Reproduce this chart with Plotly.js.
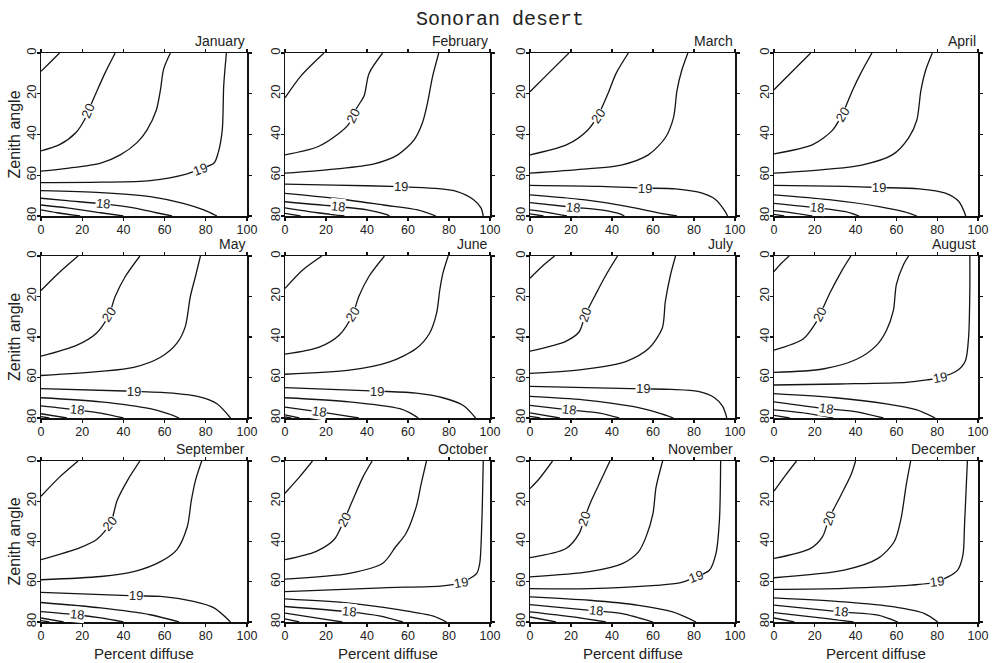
<!DOCTYPE html>
<html><head><meta charset="utf-8">
<script src="https://cdn.plot.ly/plotly-3.0.1.min.js"></script>
<style>html,body{margin:0;padding:0;background:#fff}#chart{width:1000px;height:663px}</style>
</head><body><div id="chart"></div>
<script>
const months = ['January','February','March','April','May','June','July','August','September','October','November','December'];
const xTicks = [0,20,40,60,80,100];
const yTicks = [0,20,40,60,80];
const levels = ['20.5','20','19.5','19','18.5','18','17.5','17'];

// contour 20.5 (points: [percent diffuse, zenith angle])
const c205 = [
 [[0,9],[4,5],[9,0]],
 [[0,22],[8,11],[19,0]],
 [[0,19],[8,11],[19,0]],
 [[0,18],[11,7],[18,0]],
 [[0,17],[9,8],[18,0]],
 [[0,16],[8.5,7],[18,0]],
 [[0,11],[6.5,4.6],[12,0]],
 [[0,7.7],[3.6,3.6],[7.4,0]],
 [[0,17.5],[9,8],[18,0]],
 [[0,16],[7,8],[13.4,0]],
 [[0,13.7],[4.5,8.8],[11,0]],
 [[0,15],[5.7,7],[11,0]]
];
// contour 20 (labelled)
const c200 = [
 [[0,48],[9,45],[17,39],[21,33],[24,26],[27,19],[31,10],[36,0]],
 [[0,50],[16,46],[25.6,40],[31,35],[35,27],[38.6,21],[41,10],[47.6,0]],
 [[0,50],[18,45],[28,38],[33,31],[38,20],[42,10],[48,0]],
 [[0,49.5],[19,45],[28.6,38],[33.5,30],[38.4,18.5],[42.5,10],[48,0]],
 [[0,49.5],[17.5,44],[27,38],[33,29],[36,20],[41,10],[48,0]],
 [[0,48.5],[16.7,45],[26.5,39],[33,29],[36,20],[41,10],[48.5,0]],
 [[0,47],[17.7,42],[24,37.4],[27,29],[32,19],[37,9.5],[42.7,0]],
 [[0,46.5],[14.3,41],[20,33.8],[22.5,29],[27.4,18.3],[33,7.7],[37.7,0]],
 [[0,49],[19,43],[27,39],[33.7,31],[37,19.5],[42,9.6],[48,0]],
 [[0,49],[15,45],[24,39],[29,29],[33,19.5],[38,8],[42.5,0]],
 [[0,48],[17.6,43.5],[24,36],[26.5,28.6],[30,19.5],[34.6,9.6],[39,0]],
 [[0,48.4],[18,43.4],[23.8,37.6],[27,28.5],[32.8,17],[37.7,7],[40,0]]
];
// contour 19.5
const c195 = [
 [[0,58],[12.6,56.6],[29,54],[38.5,50],[46.6,44],[51.5,37.7],[56,28],[58,18],[59.5,8],[62.8,0]],
 [[0,59],[24,57],[43.5,54.4],[55,50],[63,42.6],[67,34.4],[69.5,24.6],[72,11.5],[75,0]],
 [[0,59],[26,57],[44.5,55],[57.7,50],[66,41.6],[70,31.7],[71.7,18.5],[74,8.6],[77,0]],
 [[0,59],[27,57],[43,55],[58,50],[66,41.6],[70,33],[72,18.5],[74.3,8.6],[77.6,0]],
 [[0,59],[29,57],[45,55],[58,50],[66,43],[70,35],[72.5,20],[75,10],[77.4,0]],
 [[0,58.4],[31.4,56.4],[51,52.3],[64,45.7],[70.6,38],[74,28],[75.5,16.8],[77,8.6],[79.6,0]],
 [[0,58],[26,56],[47,52],[58,45.6],[64.5,35.7],[66,22.6],[68.5,9.5],[71,0]],
 [[0,57.5],[24,55.8],[40.5,51],[50,44.4],[55,37],[58.5,27],[60,14],[63.4,4.4],[66,0]],
 [[0,59],[29,57.4],[45,55],[58,50],[66,44],[71,32.7],[73,19.5],[75,9.6],[78,0]],
 [[0,58.7],[31.4,55.8],[47.7,50.8],[54,42.6],[59,36],[64,22.8],[66.5,11],[69,0]],
 [[0,57.6],[29,55],[45,51],[53,45],[56.6,37.7],[60,26],[61.5,13],[64.7,0]],
 [[0,58],[34.4,54.2],[51,48.4],[59,40],[62.3,28.5],[64.8,12],[67,0]]
];
// contour 19 (labelled)
const c190 = [
 [[0,63.6],[29,63.4],[53,62.6],[71,59.3],[77,57],[84,54],[86,49],[88,37.7],[88.7,16],[90,0]],
 [[0,64.4],[24,64.8],[56.5,65.6],[72.8,66.4],[84,68],[92,72],[95.6,76],[96.7,80]],
 [[0,65],[34.6,65.5],[56,66.3],[71,66.7],[84,68.8],[90.6,72],[94.7,77],[96.4,80]],
 [[0,65],[35,65.5],[51.5,66],[71,66.7],[84,68.8],[90.7,73],[94,80]],
 [[0,65.5],[45,66.8],[64,67.7],[77,69.6],[85.4,73],[92,80]],
 [[0,65],[45,66.7],[64,67.7],[77,70],[87,73.8],[93,80]],
 [[0,64.4],[55,65.6],[69,65.9],[82,66.9],[90,70],[94,74.3],[96,80]],
 [[0,63.7],[32,63.2],[65,62.4],[75,61.2],[81.5,60],[89.7,56.7],[93.8,51.8],[95.4,40],[96,15.8],[96,0]],
 [[0,65.3],[46,67],[58,67.3],[74,69.8],[84,73],[92,80]],
 [[0,64.9],[47.7,63],[77,62],[86,60.4],[93.5,55.8],[95,50.8],[96,31],[96.7,0]],
 [[0,63.4],[29,63.4],[61.5,61.8],[73,60.6],[81,57.6],[87.5,54.3],[90.7,46],[92.4,29.5],[93,0]],
 [[0,63.8],[34.4,63.3],[67,61.7],[80,60],[90,54.2],[92.6,46.8],[93.4,31.8],[94.8,0]]
];
// contour 18.5
const c185 = [
 [[0,67.5],[29,68.5],[53,70.5],[69,73.8],[79,77],[85.4,80]],
 [[0,68.9],[24,71.3],[48,74.6],[64.7,77],[73.6,80]],
 [[0,69.6],[26,72],[51,76],[64,78.7],[71.7,80]],
 [[0,69.6],[27,72],[51.5,75.4],[64,78],[70,80]],
 [[0,70],[29,72],[53,75.4],[62,78],[67,80]],
 [[0,70],[31.4,72],[56,75.4],[61,77.5],[65,80]],
 [[0,69.3],[26,71],[50,74.3],[63,77.6],[70,80]],
 [[0,68],[30,70],[55,73],[70,76],[79,80]],
 [[0,70.3],[29,73],[53,76.4],[67,80]],
 [[0,68.5],[31.4,70.6],[56,74],[72,77],[78.8,80]],
 [[0,67.5],[29,69.2],[53,71.7],[69.6,75],[81,80]],
 [[0,68],[34.4,70],[59,72.5],[73.8,75.8],[80.3,80]]
];
// contour 18 (labelled)
const c180 = [
 [[0,71.3],[12.6,72.5],[30,74],[45,76],[56,78.4],[63.6,80]],
 [[0,73],[26,75.4],[40,77],[50,79.5],[51,80]],
 [[0,73.4],[21,75.7],[34.6,77],[44.5,79.2],[46,80]],
 [[0,73.8],[21,76],[35,77.9],[41.7,80]],
 [[0,74],[17.5,76],[29,77.6],[40,80]],
 [[0,74.6],[16.7,77],[28,78.7],[36,80]],
 [[0,73.8],[19,76],[34,77.6],[43.5,80]],
 [[0,72],[25.7,75.4],[40.5,77],[53.6,80]],
 [[0,74.8],[17.5,76.4],[29,78],[40,80]],
 [[0,72.3],[31.4,75],[46,77],[57.5,80]],
 [[0,71.4],[32,74.5],[45,75.8],[60,80]],
 [[0,71.6],[32.8,75],[51,76.6],[60.7,80]]
];
// contour 17.5
const c175 = [
 [[0,74.6],[12.6,76],[29,78.4],[40,80]],
 [[0,76],[15.8,78.4],[29,80]],
 [[0,77],[9,78.3],[18,80]],
 [[0,77.4],[10.6,78.7],[18.8,80]],
 [[0,77.9],[12.6,80]],
 [[0,78.4],[7,80]],
 [[0,77.5],[14.5,80]],
 [[0,76],[16,77.7],[29,80]],
 [[0,78],[11,80]],
 [[0,75.6],[15,78],[28,80]],
 [[0,75],[21,77.5],[37,80]],
 [[0,75.3],[26,78.3],[39,80]]
];
// contour 17
const c170 = [
 [[0,77],[7.8,78.4],[19,80]],
 [[0,78.7],[7.6,80]],
 [[0,79],[6.6,80]],
 [[0,79.2],[5,80]],
 [[0,79.3],[4,80]],
 [[0,79.5],[3,80]],
 [[0,79.2],[5,80]],
 [[0,78.7],[7.7,80]],
 [[0,79.3],[4,80]],
 [[0,78.4],[7,80]],
 [[0,77.5],[12.7,80]],
 [[0,78],[10,80]]
];
// x positions (percent diffuse) of the in-line labels
const lab20x = [23,33,33,33.5,33,33,27,22.5,33.5,29,26.5,27];
const lab19x = [77,56.5,56,51.5,45,45,55,81.5,46,86,81,80];
const lab18x = [30,26,21,21,17.5,16.7,19,25.7,17.5,31.4,32,32.8];

// ---- layout geometry (pixels) ----
const W = 1000, H = 663;
const colPx = [[41,247],[285,490],[530,735],[774,978]];
const rowPx = [[53,216],[256,418],[461,622]];
const FONT = 'Liberation Sans, Arial, sans-serif';
const lineCol = '#151515';

const allLines = [c205,c200,c195,c190,c185,c180,c175,c170];
const traces = [];
const layout = {
  width: W, height: H, margin:{l:0,r:0,t:0,b:0},
  paper_bgcolor:'#fff', plot_bgcolor:'#fff', showlegend:false,
  font:{family:FONT, size:12, color:'#222'},
  annotations: [],
  title:{text:'Sonoran desert', x:0.5, xanchor:'center', y:1-18/H, yanchor:'middle',
         font:{family:'Liberation Mono, Courier New, monospace', size:20, color:'#222'}}
};

function interp(pts, xv){
  for (let i=0;i<pts.length-1;i++){
    const a=pts[i], b=pts[i+1];
    const lo=Math.min(a[0],b[0]), hi=Math.max(a[0],b[0]);
    if (xv>=lo && xv<=hi && hi>lo){
      const t=(xv-a[0])/(b[0]-a[0]);
      return {y:a[1]+t*(b[1]-a[1]), a, b};
    }
  }
  const a=pts[pts.length-2], b=pts[pts.length-1];
  return {y:b[1], a, b};
}

months.forEach((m, i) => {
  const r = Math.floor(i/4), c = i%4;
  const n = i+1;
  const xa = n===1 ? 'x' : 'x'+n, ya = n===1 ? 'y' : 'y'+n;
  const xk = n===1 ? 'xaxis' : 'xaxis'+n, yk = n===1 ? 'yaxis' : 'yaxis'+n;
  const [x0,x1] = colPx[c], [y0,y1] = rowPx[r];
  const axCommon = {showgrid:false, zeroline:false, showline:true, linecolor:'#111', linewidth:1.5,
    ticks:'outside', ticklen:3, tickwidth:1.2, tickcolor:'#111', mirror:'allticks',
    tickfont:{family:FONT, size:13, color:'#222'}, fixedrange:true};
  layout[xk] = Object.assign({}, axCommon, {domain:[x0/W, x1/W], range:[0,100], tickvals:xTicks,
    ticktext:xTicks.map(String), ticklabelstandoff:-2, tickfont:{family:FONT, size:12.5, color:'#222'}, anchor:ya});
  layout[yk] = Object.assign({}, axCommon, {domain:[1-y1/H, 1-y0/H], range:[80,0], tickvals:yTicks,
    ticktext:yTicks.map(String), tickangle:-90, ticklabelstandoff:-5, anchor:xa});

  allLines.forEach((set, k) => {
    const pts = set[i];
    traces.push({type:'scatter', mode:'lines', xaxis:xa, yaxis:ya,
      x: pts.map(p=>p[0]), y: pts.map(p=>p[1]), name: levels[k],
      line:{color:lineCol, width:1.3, shape:'spline', smoothing:0.8}, hoverinfo:'skip'});
  });

  const sx = (x1-x0)/100, sy = (y1-y0)/80;
  [[c200, lab20x, '20'], [c190, lab19x, '19'], [c180, lab18x, '18']].forEach(([set, labs, txt]) => {
    const pts = set[i];
    const q = interp(pts, labs[i]);
    let ang = Math.atan2((q.b[1]-q.a[1])*sy, (q.b[0]-q.a[0])*sx)*180/Math.PI;
    if (ang > 90) ang -= 180;
    if (ang < -90) ang += 180;
    layout.annotations.push({xref:xa, yref:ya, x:labs[i], y:q.y, text:txt, showarrow:false,
      textangle:ang, bgcolor:'#fff', borderpad:0, font:{family:FONT, size:13, color:'#222'}});
  });

  // month label
  layout.annotations.push({xref:'paper', yref:'paper', x:x1/W, y:1-(y0-2)/H, xanchor:'right', yanchor:'bottom',
    text:m, showarrow:false, font:{family:FONT, size:14, color:'#222'}});
  if (c===0){
    layout.annotations.push({xref:'paper', yref:'paper', x:14/W, y:1-((y0+y1)/2)/H, xanchor:'center', yanchor:'middle',
      text:'Zenith angle', textangle:-90, showarrow:false, font:{family:FONT, size:16, color:'#222'}});
  }
  if (r===2){
    layout.annotations.push({xref:'paper', yref:'paper', x:((x0+x1)/2)/W, y:1-653/H, xanchor:'center', yanchor:'middle',
      text:'Percent diffuse', showarrow:false, font:{family:FONT, size:15, color:'#222'}});
  }
});

Plotly.newPlot('chart', traces, layout, {staticPlot:true, displayModeBar:false});
</script></body></html>
